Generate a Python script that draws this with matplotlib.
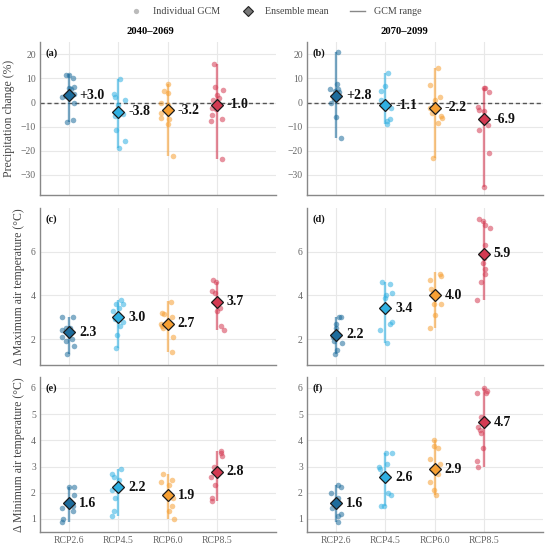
import matplotlib
matplotlib.use("Agg")
import matplotlib.pyplot as plt
from matplotlib.lines import Line2D
import numpy as np

plt.rcParams['font.family'] = ['Liberation Serif', 'DejaVu Serif']

scenarios = ["RCP2.6", "RCP4.5", "RCP6.0", "RCP8.5"]
colors = ["#1d6c9c", "#2fb0e2", "#f7a033", "#d43a52"]
periods = ["2040\u20132069", "2070\u20132099"]
panel_letters = ["(a)", "(b)", "(c)", "(d)", "(e)", "(f)"]
ylabels = ["Precipitation change (%)", "\u0394 Maximum air temperature (\u00b0C)",
           "\u0394 Minimum air temperature (\u00b0C)"]

# ---- individual GCM values (y) and horizontal jitter (dx) per panel / scenario ----
# Panel (a): precipitation 2040-2069
a_y = [[11.5, 11.3, 10.1, 6.2, 6.5, 5.5, 2.4, 2.8, 3.5, 0.0, -8.0, -7.2],
       [9.7, 3.5, 2.4, 1.0, -0.8, -5.5, -4.8, -11.2, -16.0, -19.0],
       [7.6, 4.9, 4.0, 0.0, -1.0, -4.2, -7.0, -6.5, -9.0, -22.0, -2.5],
       [16.0, 6.5, 5.4, 3.0, 2.0, 1.0, -2.3, -2.8, -5.3, -7.6, -7.0, -23.5]]
a_dx = [[-0.06, -0.01, 0.08, -0.01, 0.09, 0.04, -0.14, -0.07, 0.09, 0.09, -0.05, 0.08],
        [0.03, -0.09, -0.07, 0.14, 0.0, -0.07, 0.09, -0.05, 0.14, 0.01],
        [0.0, -0.07, 0.01, -0.13, 0.01, -0.13, 0.03, -0.13, 0.0, 0.11, 0.05],
        [-0.05, -0.03, 0.12, 0.01, 0.05, -0.08, -0.09, -0.01, -0.09, -0.12, 0.11, 0.10]]
a_mean = [3.0, -3.8, -3.2, -1.0]
a_rng = [(-8.0, 11.8), (-19.0, 9.7), (-22.0, 7.6), (-23.5, 16.0)]

# Panel (b): precipitation 2070-2099
b_y = [[20.8, 5.6, 7.9, 5.5, 4.9, 4.2, 0.0, 1.4, -6.0, -14.6],
       [12.2, 7.0, 4.9, 1.0, -1.5, -2.4, -6.7, -8.7, -7.6],
       [14.3, 7.2, 2.4, 1.0, -2.4, -4.3, -5.6, -6.5, -8.6, -22.9],
       [6.2, 6.0, 4.2, -1.8, -3.2, -3.5, -9.4, -11.5, -20.8, -35.0]]
b_dx = [[0.03, -0.12, 0.02, 0.04, -0.03, 0.05, -0.11, -0.05, 0.0, 0.10],
        [0.05, -0.01, -0.09, -0.09, 0.02, 0.11, 0.09, 0.03, 0.04],
        [0.06, -0.09, 0.11, 0.0, -0.10, -0.06, 0.13, 0.15, 0.06, -0.03],
        [0.03, 0.0, 0.10, -0.11, -0.10, 0.01, 0.09, -0.10, 0.10, 0.01]]
b_mean = [2.8, -1.1, -2.2, -6.9]
b_rng = [(-14.5, 21.0), (-8.7, 12.2), (-22.9, 14.3), (-35.0, 6.2)]

# Panel (c): Tmax 2040-2069
c_y = [[3.0, 3.0, 2.4, 2.5, 2.5, 2.1, 1.9, 2.0, 1.7, 1.3],
       [3.8, 3.6, 3.6, 3.4, 3.3, 2.8, 2.6, 2.2, 1.6, 2.9],
       [3.7, 3.2, 3.15, 3.0, 2.7, 2.6, 2.5, 2.1, 1.4],
       [4.7, 4.6, 4.2, 4.1, 3.4, 3.3, 2.6, 2.4]]
c_dx = [[-0.14, 0.07, -0.14, -0.07, 0.02, -0.14, -0.07, 0.05, 0.11, -0.04],
        [0.05, -0.05, 0.10, 0.01, -0.10, 0.10, 0.03, -0.03, -0.05, -0.07],
        [0.07, -0.11, -0.07, 0.08, -0.13, -0.12, -0.09, 0.11, 0.08],
        [-0.08, -0.02, -0.10, -0.03, 0.07, 0.01, 0.08, 0.14]]
c_mean = [2.3, 3.0, 2.7, 3.7]
c_rng = [(1.3, 3.0), (1.6, 3.8), (1.4, 3.75), (2.4, 4.6)]

# Panel (d): Tmax 2070-2099
d_y = [[3.0, 3.0, 2.7, 2.5, 2.1, 1.9, 1.8, 1.5, 1.3],
       [4.6, 4.5, 4.1, 4.0, 3.9, 2.8, 2.7, 2.4, 1.8],
       [5.0, 4.9, 4.7, 4.3, 4.15, 3.6, 3.6, 3.1, 2.5],
       [7.5, 7.4, 7.2, 7.1, 6.3, 5.7, 5.5, 5.2, 5.0, 4.6, 3.8]]
d_dx = [[0.05, 0.10, 0.0, 0.0, -0.07, -0.05, 0.12, 0.02, -0.02],
        [-0.06, 0.09, 0.13, 0.01, -0.01, 0.13, 0.10, -0.11, 0.04],
        [0.11, 0.13, -0.10, -0.07, -0.03, -0.02, 0.13, 0.0, -0.09],
        [-0.10, -0.02, 0.02, 0.12, 0.02, 0.0, -0.02, 0.02, 0.03, -0.06, -0.14]]
d_mean = [2.2, 3.4, 4.0, 5.9]
d_rng = [(1.3, 3.0), (1.8, 4.6), (2.5, 5.05), (3.8, 7.4)]

# Panel (e): Tmin 2040-2069
e_y = [[2.2, 2.2, 1.9, 1.4, 1.3, 1.0, 0.9, 1.5],
       [2.9, 2.7, 2.6, 2.5, 2.1, 1.8, 1.3, 1.1],
       [2.7, 2.5, 2.4, 2.3, 1.8, 1.5, 1.3, 1.0],
       [3.6, 3.5, 3.4, 3.0, 2.6, 2.3, 1.8, 1.7]]
e_dx = [[-0.01, 0.11, 0.09, -0.15, 0.07, -0.12, -0.14, 0.07],
        [0.05, -0.13, -0.08, 0.01, -0.13, -0.07, -0.08, -0.13],
        [-0.09, 0.08, -0.13, 0.03, 0.10, 0.09, 0.03, 0.13],
        [0.08, 0.09, 0.11, -0.05, -0.12, -0.03, -0.09, -0.09]]
e_mean = [1.6, 2.2, 1.9, 2.8]
e_rng = [(0.9, 2.2), (1.1, 2.9), (1.0, 2.7), (1.7, 3.6)]

# Panel (f): Tmin 2070-2099
f_y = [[2.3, 2.2, 2.0, 1.8, 1.4, 1.2, 1.1, 0.9],
       [3.5, 3.5, 3.0, 2.9, 3.1, 2.7, 2.0, 1.9, 1.5, 1.5],
       [4.0, 3.8, 3.7, 3.3, 3.1, 2.7, 2.4, 2.1, 1.9],
       [6.0, 5.9, 5.8, 5.8, 4.9, 4.5, 4.4, 4.3, 3.7, 3.2, 3.0]]
f_dx = [[0.03, 0.09, -0.11, 0.03, -0.09, 0.09, 0.03, 0.03],
        [0.02, 0.13, -0.13, -0.10, 0.04, -0.06, 0.06, 0.11, -0.09, -0.03],
        [-0.02, -0.02, 0.07, -0.09, 0.10, 0.06, -0.10, -0.02, 0.02],
        [0.0, 0.07, 0.05, -0.13, -0.06, -0.11, -0.07, -0.05, -0.02, -0.13, -0.11]]
f_mean = [1.6, 2.6, 2.9, 4.7]
f_rng = [(0.9, 2.3), (1.5, 3.5), (1.9, 4.0), (3.0, 6.0)]

panels = [(a_y, a_dx, a_mean, a_rng), (b_y, b_dx, b_mean, b_rng),
          (c_y, c_dx, c_mean, c_rng), (d_y, d_dx, d_mean, d_rng),
          (e_y, e_dx, e_mean, e_rng), (f_y, f_dx, f_mean, f_rng)]

ylims = [(-38.3, 25.1), (0.81, 8.0), (0.5, 6.42)]
yticks = [[-30, -20, -10, 0, 10, 20], [2, 4, 6], [1, 2, 3, 4, 5, 6]]

fig = plt.figure(figsize=(5.5, 5.48), dpi=100)
W, H = 550.0, 548.0
lefts = [40, 307]
width = 236
rows = [(42, 195), (208, 365), (377, 532)]

for i, (ys, dxs, means, rngs) in enumerate(panels):
    r, c = divmod(i, 2)
    top, bot = rows[r]
    ax = fig.add_axes([lefts[c] / W, 1 - bot / H, width / W, (bot - top) / H])
    ax.set_xlim(0.41, 5.2)
    ax.set_ylim(*ylims[r])
    ax.set_yticks(yticks[r])
    ax.set_xticks([1, 2, 3, 4])
    ax.grid(True, color="#e8e8e8", lw=0.8, zorder=0)
    ax.set_axisbelow(True)
    for s in ["top", "right"]:
        ax.spines[s].set_visible(False)
    for s in ["left", "bottom"]:
        ax.spines[s].set_color("#888888")
        ax.spines[s].set_linewidth(1.0)
    ax.tick_params(length=0, labelsize=7, labelcolor="#666666", pad=3)
    if r < 2:
        ax.set_xticklabels([])
    else:
        ax.set_xticklabels(scenarios)
    if r == 0:
        ax.axhline(0, color="#555555", lw=1.0, ls=(0, (3, 2)), zorder=1)
    if c == 0:
        ax.set_ylabel(ylabels[r], fontsize=8.5, color="#444444", labelpad=4)
    for k in range(4):
        xc = k + 1
        lo, hi = rngs[k]
        ax.plot([xc, xc], [lo, hi], color=colors[k], lw=1.7, alpha=0.6,
                solid_capstyle="butt", zorder=2)
        xs = [xc + d for d in dxs[k]]
        ax.scatter(xs, ys[k], s=16, color=colors[k], alpha=0.55, linewidths=0, zorder=3)
        ax.plot([xc], [means[k]], marker="D", ms=5.8, mfc=colors[k], mec="#1a1a1a",
                mew=0.9, zorder=4, ls="none")
        if r == 0:
            lab = f"{means[k]:+.1f}".replace("\u2212", "-")
        else:
            lab = f"{means[k]:.1f}"
        ax.text(xc + 0.2, means[k], lab, fontsize=10, fontweight="bold",
                ha="left", va="center", color="#111111", zorder=5)
    ax.text(0.022, 0.93, panel_letters[i], transform=ax.transAxes, fontsize=7.5,
            fontweight="bold", ha="left", va="center", color="#111111")

fig.text(150 / W, 1 - 31 / H, periods[0], fontsize=7.7, fontweight="bold",
         ha="center", va="center")
fig.text(404 / W, 1 - 31 / H, periods[1], fontsize=7.7, fontweight="bold",
         ha="center", va="center")

handles = [Line2D([], [], marker="o", ls="none", ms=3.8, mfc="#bbbbbb", mec="none"),
           Line2D([], [], marker="D", ls="none", ms=5.5, mfc="#777777", mec="#222222", mew=0.8),
           Line2D([], [], color="#888888", lw=1.0)]
fig.legend(handles, ["Individual GCM", "Ensemble mean", "GCM range"],
           loc="center", bbox_to_anchor=(0.5, 1 - 12 / H), ncol=3, frameon=False,
           fontsize=7.2, handlelength=1.5, columnspacing=2.1, handletextpad=0.9,
           labelcolor="#444444")

fig.savefig("out.png", dpi=100)
